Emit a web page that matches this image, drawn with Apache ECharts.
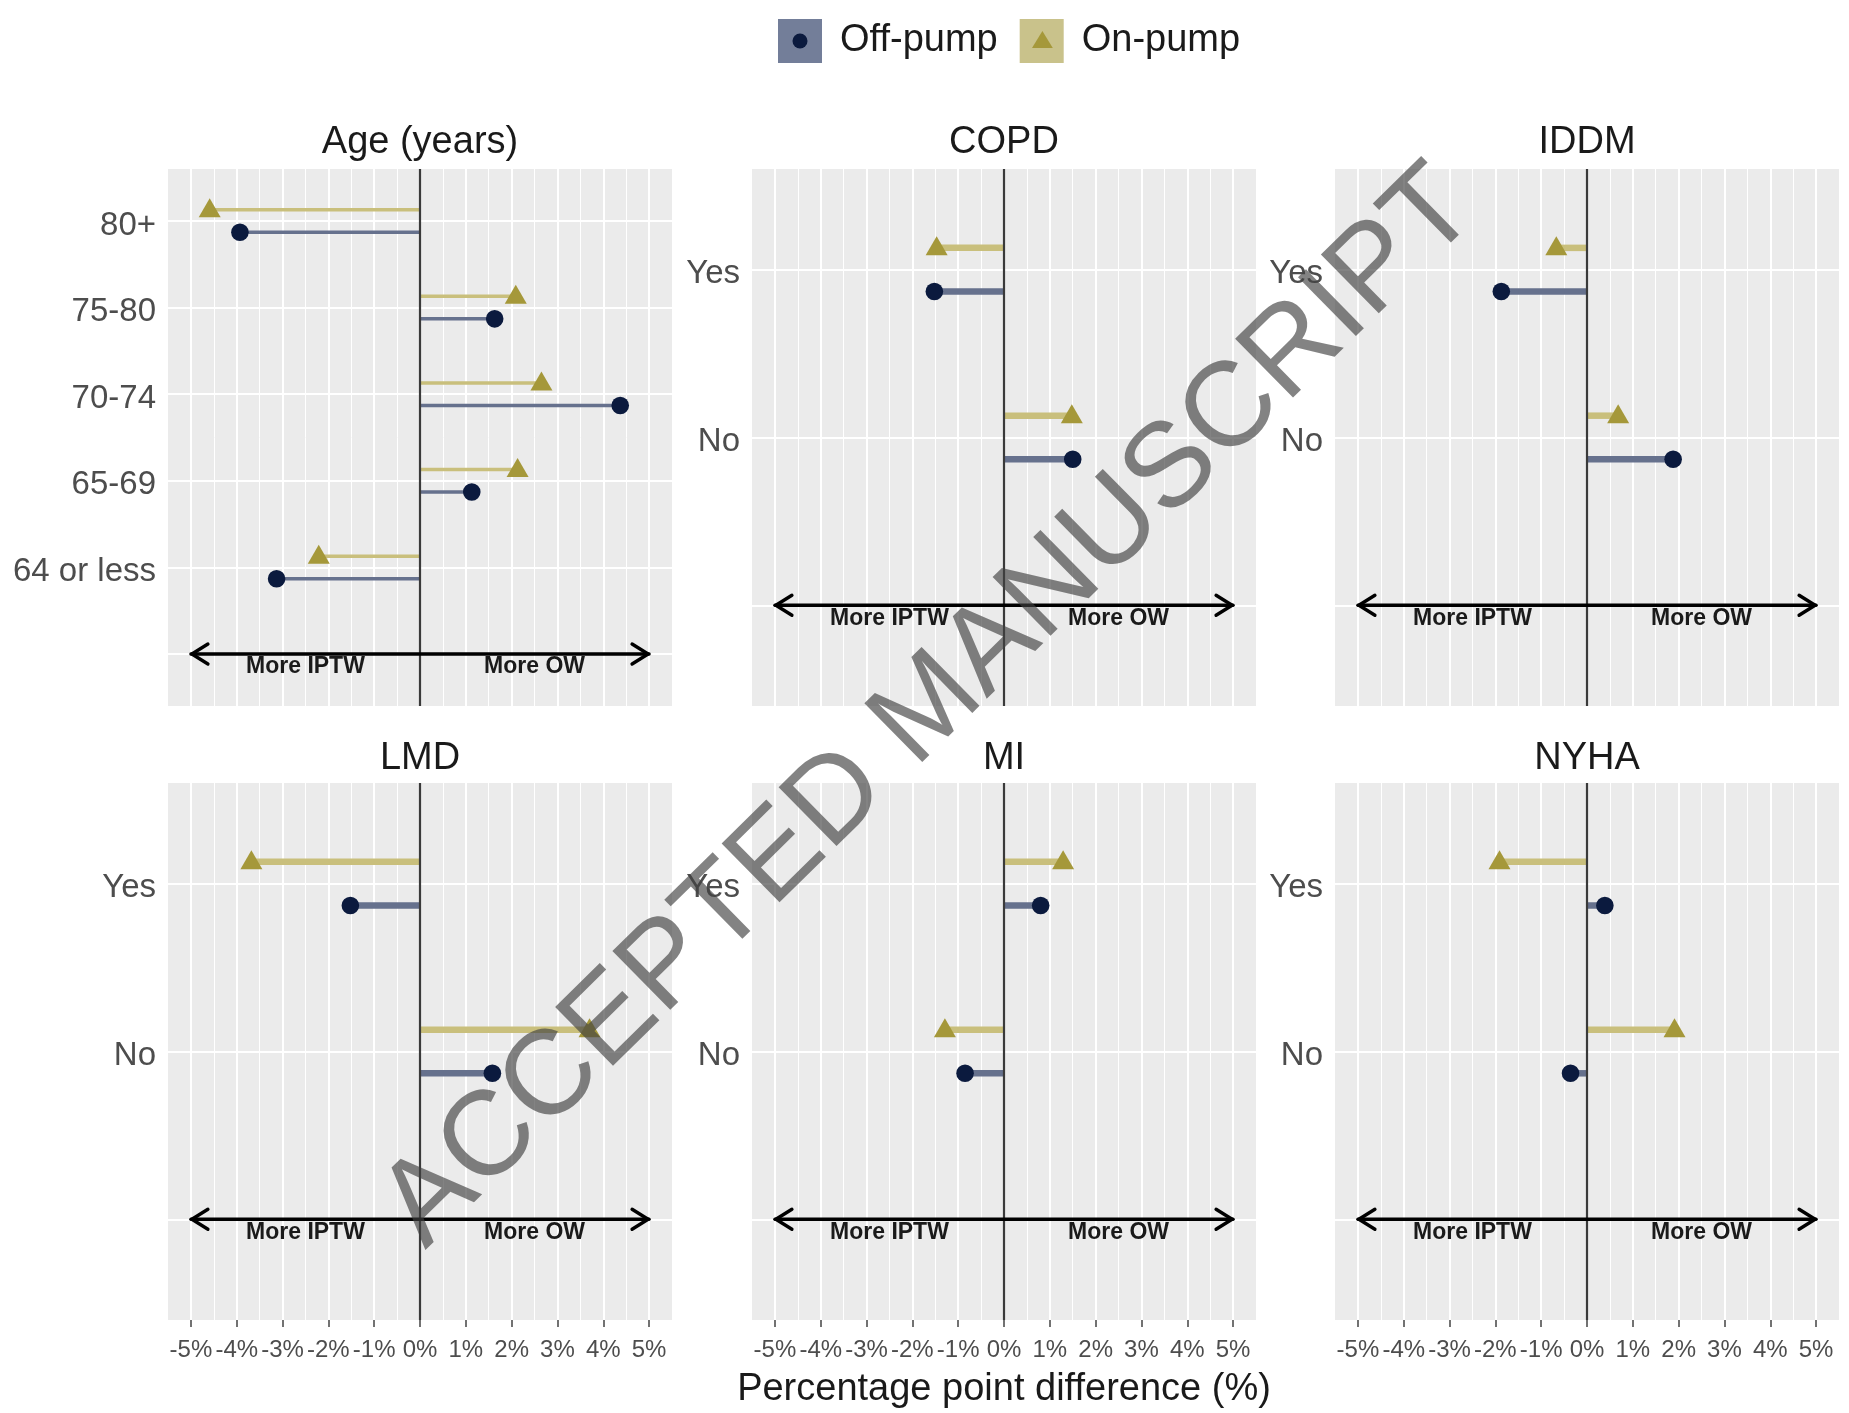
<!DOCTYPE html>
<html><head><meta charset="utf-8">
<script src="https://cdn.jsdelivr.net/npm/echarts@6/dist/echarts.min.js"></script>
<style>html,body{margin:0;padding:0;background:#fff}#c{width:1849px;height:1413px}</style>
</head><body><div id="c"></div><script>
// ---------- data ----------
const panelTitles = ['Age (years)', 'COPD', 'IDDM', 'LMD', 'MI', 'NYHA'];
const ageCategories = ['80+', '75-80', '70-74', '65-69', '64 or less'];
const yesNoCategories = ['Yes', 'No'];
const ageOffPump = [-3.93, 1.63, 4.37, 1.13, -3.13];
const ageOnPump = [-4.59, 2.09, 2.65, 2.13, -2.21];
const copdOffPump = [-1.52, 1.50];
const copdOnPump = [-1.47, 1.48];
const iddmOffPump = [-1.87, 1.88];
const iddmOnPump = [-0.67, 0.68];
const lmdOffPump = [-1.52, 1.58];
const lmdOnPump = [-3.68, 3.70];
const miOffPump = [0.80, -0.85];
const miOnPump = [1.29, -1.29];
const nyhaOffPump = [0.39, -0.36];
const nyhaOnPump = [-1.91, 1.91];
const xTickValues = [-5, -4, -3, -2, -1, 0, 1, 2, 3, 4, 5];
const xTickLabels = ['-5%', '-4%', '-3%', '-2%', '-1%', '0%', '1%', '2%', '3%', '4%', '5%'];
const xMinorValues = [-4.5, -3.5, -2.5, -1.5, -0.5, 0.5, 1.5, 2.5, 3.5, 4.5];
const arrowEnds = [-5, 5];
const arrowLabels = ['More IPTW', 'More OW'];
const arrowLabelX = [-2.5, 2.5];
const legendNames = ['Off-pump', 'On-pump'];
const xAxisTitle = 'Percentage point difference (%)';
const watermarkText = 'ACCEPTED MANUSCRIPT';

// ---------- style / layout ----------
const FONT = '"Liberation Sans", Arial, Helvetica, sans-serif';
const OFF_MARK = '#0B1A3E', OFF_LINE = '#66718D', OFF_KEY = '#737E99';
const ON_MARK = '#A5983A', ON_LINE = '#C9BF7C', ON_KEY = '#C9C28B';
const DODGE = 0.13;
const gridLefts = [168, 752, 1335];
const rowTops = [169, 783];
const GW = 504, GH = 537;

const panels = [
  { title: panelTitles[0], cats: ageCategories, off: ageOffPump, on: ageOnPump, lw: 3.5 },
  { title: panelTitles[1], cats: yesNoCategories, off: copdOffPump, on: copdOnPump, lw: 6.5 },
  { title: panelTitles[2], cats: yesNoCategories, off: iddmOffPump, on: iddmOnPump, lw: 6.5 },
  { title: panelTitles[3], cats: yesNoCategories, off: lmdOffPump, on: lmdOnPump, lw: 6.5 },
  { title: panelTitles[4], cats: yesNoCategories, off: miOffPump, on: miOnPump, lw: 6.5 },
  { title: panelTitles[5], cats: yesNoCategories, off: nyhaOffPump, on: nyhaOnPump, lw: 6.5 }
];

function range(a, b) { const r = []; for (let i = a; i <= b; i++) r.push(i); return r; }

function makeLollipop(shape, lw, lineColor, markColor) {
  return function (params, api) {
    const v = api.value(0), y = api.value(1);
    const a = api.coord([0, y]), b = api.coord([v, y]);
    const kids = [{ type: 'line', shape: { x1: a[0], y1: a[1], x2: b[0], y2: b[1] }, style: { stroke: lineColor, lineWidth: lw } }];
    if (shape === 'circle') {
      kids.push({ type: 'circle', shape: { cx: b[0], cy: b[1], r: 8.8 }, style: { fill: markColor } });
    } else {
      kids.push({ type: 'polygon', shape: { points: [[b[0], b[1] - 11.5], [b[0] - 11, b[1] + 7.5], [b[0] + 11, b[1] + 7.5]] }, style: { fill: markColor } });
    }
    return { type: 'group', children: kids };
  };
}

function arrowRender(params, api) {
  const y = api.value(2);
  const L = api.coord([api.value(0), y]), R = api.coord([api.value(1), y]);
  const st = { stroke: '#000', lineWidth: 3.4, fill: null, lineCap: 'round', lineJoin: 'round' };
  const kids = [
    { type: 'line', shape: { x1: L[0], y1: L[1], x2: R[0], y2: R[1] }, style: st },
    { type: 'polyline', shape: { points: [[L[0] + 17, L[1] - 10], [L[0] + 1, L[1]], [L[0] + 17, L[1] + 10]] }, style: st },
    { type: 'polyline', shape: { points: [[R[0] - 17, R[1] - 10], [R[0] - 1, R[1]], [R[0] - 17, R[1] + 10]] }, style: st }
  ];
  arrowLabels.forEach((t, j) => {
    const p = api.coord([arrowLabelX[j], y]);
    kids.push({ type: 'text', x: p[0], y: p[1] + 13, style: { text: t, fill: '#1a1a1a', font: 'bold 23px ' + FONT, align: 'center', verticalAlign: 'middle' } });
  });
  return { type: 'group', children: kids };
}

const grid = [], xAxis = [], yAxis = [], series = [], title = [];
panels.forEach((p, i) => {
  const row = Math.floor(i / 3), col = i % 3;
  const n = p.cats.length;
  const bottomRow = row === 1;
  grid.push({ left: gridLefts[col], top: rowTops[row], width: GW, height: GH, show: true, backgroundColor: '#EBEBEB', borderWidth: 0, containLabel: false, outerBoundsMode: 'none' });
  title.push({ text: p.title, left: gridLefts[col] + GW / 2, top: rowTops[row] - (row === 0 ? 48 : 46), textAlign: 'center', padding: 0,
    textStyle: { fontSize: 38, fontWeight: 'normal', color: '#1a1a1a', fontFamily: FONT, lineHeight: 44 } });
  const mainX = {
    type: 'value', gridIndex: i, min: -5.5, max: 5.5, position: 'bottom',
    axisLine: { show: false },
    axisTick: { show: bottomRow, customValues: xTickValues, length: 7, lineStyle: { color: '#444', width: 1.5 } },
    axisLabel: { show: bottomRow, customValues: xTickValues, formatter: v => xTickLabels[xTickValues.indexOf(Math.round(v))], fontSize: 24, color: '#4D4D4D', fontFamily: FONT, margin: 18 },
    splitLine: { show: true, lineStyle: { color: '#FFFFFF', width: 2 } }
  };
  if (i === 4) {
    mainX.name = xAxisTitle;
    mainX.nameLocation = 'middle';
    mainX.nameGap = 51;
    mainX.nameTextStyle = { fontSize: 38, color: '#1a1a1a', fontFamily: FONT };
  }
  xAxis.push(mainX);
  xAxis.push({
    type: 'value', gridIndex: i, min: -5.5, max: 5.5, position: 'top',
    axisLine: { show: false }, axisLabel: { show: false },
    axisTick: { show: false, customValues: xMinorValues },
    splitLine: { show: true, lineStyle: { color: '#FFFFFF', width: 1 } }
  });
  yAxis.push({
    type: 'value', gridIndex: i, inverse: true, min: 0.4, max: n + 1.6,
    axisLine: { show: false },
    axisTick: { show: false, customValues: range(1, n + 1) },
    axisLabel: { customValues: range(1, n), formatter: v => p.cats[Math.round(v) - 1] || '', fontSize: 33, color: '#4D4D4D', fontFamily: FONT, margin: 12, verticalAlign: 'top', lineHeight: 9 },
    splitLine: { show: true, lineStyle: { color: '#FFFFFF', width: 2 } }
  });
  series.push({
    type: 'custom', name: legendNames[1], xAxisIndex: 2 * i, yAxisIndex: i,
    itemStyle: { color: ON_KEY },
    renderItem: makeLollipop('triangle', p.lw, ON_LINE, ON_MARK),
    data: p.on.map((v, k) => [v, k + 1 - DODGE]),
    markLine: { silent: true, symbol: 'none', label: { show: false }, animation: false,
      lineStyle: { color: '#3a3a3a', width: 2.2, type: 'solid' }, data: [{ xAxis: 0 }] },
    z: 3
  });
  series.push({
    type: 'custom', name: legendNames[0], xAxisIndex: 2 * i, yAxisIndex: i,
    itemStyle: { color: OFF_KEY },
    renderItem: makeLollipop('circle', p.lw, OFF_LINE, OFF_MARK),
    data: p.off.map((v, k) => [v, k + 1 + DODGE]),
    z: 4
  });
  series.push({
    type: 'custom', name: 'arrow', xAxisIndex: 2 * i, yAxisIndex: i,
    renderItem: arrowRender,
    data: [[arrowEnds[0], arrowEnds[1], n + 1]],
    z: 5
  });
});

const chart = echarts.init(document.getElementById('c'), null, { renderer: 'canvas' });
chart.setOption({
  animation: false,
  backgroundColor: '#FFFFFF',
  textStyle: { fontFamily: FONT },
  title: title,
  legend: {
    data: [
      { name: legendNames[0], icon: 'rect', itemStyle: { color: OFF_KEY } },
      { name: legendNames[1], icon: 'rect', itemStyle: { color: ON_KEY } }
    ],
    left: 778, top: 19, itemWidth: 44, itemHeight: 44, itemGap: 22, selectedMode: false,
    padding: 0,
    textStyle: { fontSize: 38, color: '#1a1a1a', fontFamily: FONT, padding: [0, 0, 0, 13], lineHeight: 44 }
  },
  grid: grid, xAxis: xAxis, yAxis: yAxis, series: series,
  graphic: [
    { type: 'circle', shape: { cx: 800, cy: 41, r: 7.5 }, style: { fill: OFF_MARK }, z: 50 },
    { type: 'polygon', shape: { points: [[1042.4, 31], [1032, 48], [1052.8, 48]] }, style: { fill: ON_MARK }, z: 50 },
    { type: 'text', x: 930, y: 708, rotation: 44.5 * Math.PI / 180, z: 100, silent: true,
      style: { text: watermarkText, font: '120px ' + FONT, fill: 'rgba(64,64,64,0.65)', align: 'center', verticalAlign: 'middle' } }
  ]
});
</script></body></html>
